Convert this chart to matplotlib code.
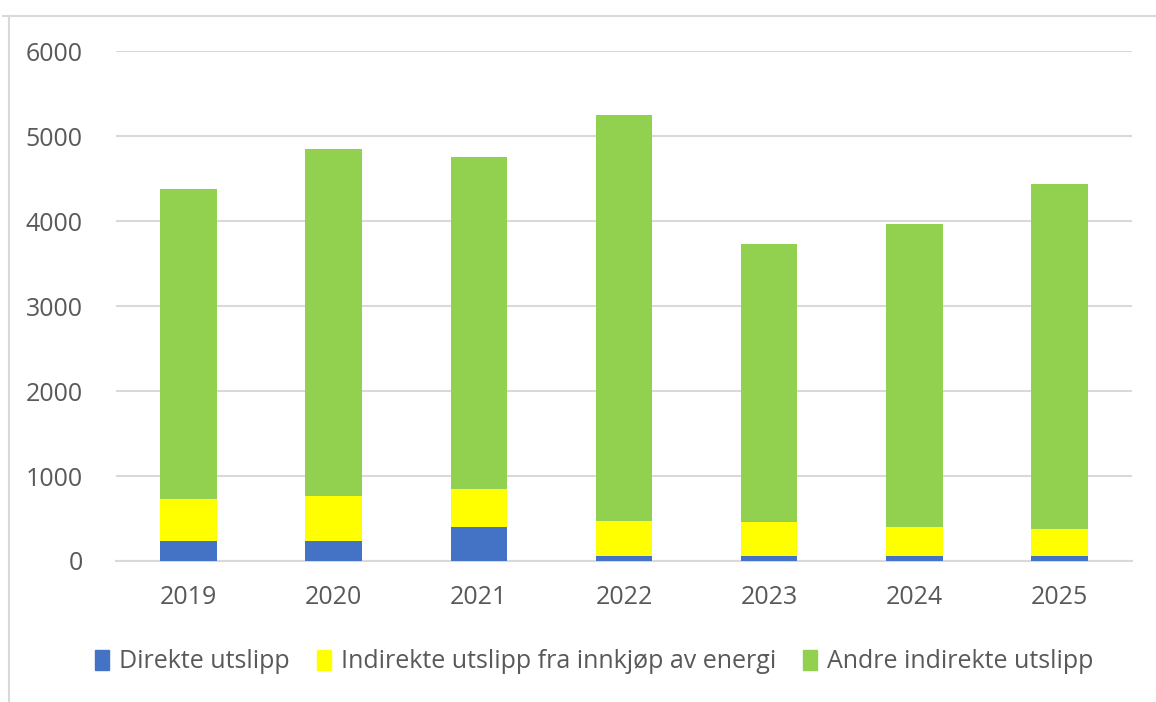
import matplotlib
matplotlib.use("Agg")
import matplotlib.pyplot as plt
from matplotlib.lines import Line2D

years = ["2019", "2020", "2021", "2022", "2023", "2024", "2025"]
direkte = [240, 240, 400, 55, 55, 55, 55]
indirekte_energi = [485, 525, 450, 420, 400, 345, 325]
andre_indirekte = [3655, 4085, 3905, 4770, 3270, 3560, 4050]
series_labels = ["Direkte utslipp", "Indirekte utslipp fra innkjøp av energi", "Andre indirekte utslipp"]
colors = ["#4472C4", "#FFFF00", "#92D050"]
yticks = [0, 1000, 2000, 3000, 4000, 5000, 6000]

plt.rcParams['font.family'] = ['Open Sans', 'DejaVu Sans']

fig = plt.figure(figsize=(11.56, 7.02), dpi=100)
ax = fig.add_axes([116/1156, 1-561/702, (1132-116)/1156, (561-51)/702])

x = list(range(len(years)))
bottom2 = [a + b for a, b in zip(direkte, indirekte_energi)]
w = 0.39
ax.bar(x, direkte, width=w, color=colors[0], label=series_labels[0], zorder=3)
ax.bar(x, indirekte_energi, width=w, bottom=direkte, color=colors[1], label=series_labels[1], zorder=3)
ax.bar(x, andre_indirekte, width=w, bottom=bottom2, color=colors[2], label=series_labels[2], zorder=3)

ax.set_xlim(-0.5, len(years) - 0.5)
ax.set_ylim(0, 6000)
ax.set_yticks(yticks)
ax.set_xticks(x)
ax.set_xticklabels(years)
ax.grid(axis='y', color='#D9D9D9', linewidth=1.5, zorder=0)
ax.set_axisbelow(True)
for s in ['top', 'right', 'left']:
    ax.spines[s].set_visible(False)
ax.spines['bottom'].set_color('#D9D9D9')
ax.spines['bottom'].set_linewidth(1.5)
ax.tick_params(axis='both', length=0, labelsize=18, colors='#595959')
ax.tick_params(axis='y', pad=24)
ax.tick_params(axis='x', pad=17)

handles = [plt.Rectangle((0, 0), 1, 1, color=c) for c in colors]
fig.legend(handles, series_labels, loc='center', bbox_to_anchor=(0.514, 1-662/702), ncol=3,
           frameon=False, fontsize=18, labelcolor='#595959', handlelength=0.55, handleheight=0.85,
           handletextpad=0.4, columnspacing=1.1)

# chart border lines
fig.add_artist(Line2D([3/1156, 1], [1-16/702, 1-16/702], color='#D9D9D9', linewidth=1.5, transform=fig.transFigure))
fig.add_artist(Line2D([9/1156, 9/1156], [0, 1-16/702], color='#D9D9D9', linewidth=1.5, transform=fig.transFigure))

fig.savefig("out.png", dpi=100)
